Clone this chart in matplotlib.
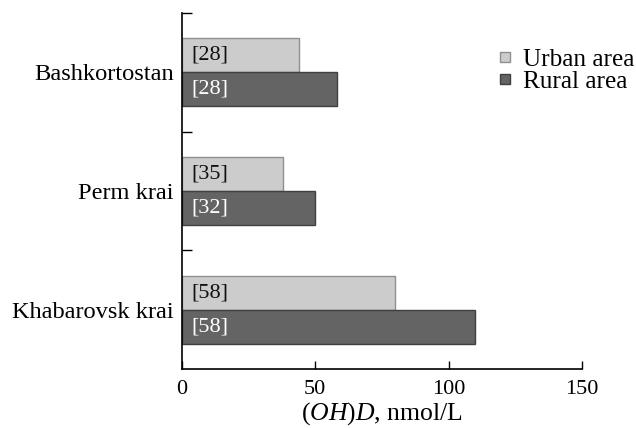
import matplotlib
matplotlib.use("Agg")
import matplotlib.pyplot as plt
import numpy as np
from matplotlib.lines import Line2D

plt.rcParams['font.family'] = ['Liberation Serif', 'DejaVu Serif']
plt.rcParams['mathtext.fontset'] = 'custom'
plt.rcParams['mathtext.rm'] = 'Liberation Serif'
plt.rcParams['mathtext.it'] = 'Liberation Serif:italic'

regions = ["Bashkortostan", "Perm krai", "Khabarovsk krai"]
urban = [44, 38, 80]
rural = [58, 50, 110]
urban_n = ["[28]", "[35]", "[58]"]
rural_n = ["[28]", "[32]", "[58]"]
series_names = ["Urban area", "Rural area"]
xticks = [0, 50, 100, 150]

c_urban, e_urban = "#cccccc", "#8f8f8f"
c_rural, e_rural = "#646464", "#404040"

fig = plt.figure(figsize=(6.36, 4.28), dpi=100)
ax = fig.add_axes([0.286, 0.138, 0.629, 0.832])

y = np.arange(len(regions))
h = 0.287
ax.barh(y - h / 2, urban, height=h, color=c_urban, edgecolor=e_urban, linewidth=1)
ax.barh(y + h / 2, rural, height=h, color=c_rural, edgecolor=e_rural, linewidth=1)

fs = 16
for i in range(len(regions)):
    ax.text(3.5, y[i] - h / 2, urban_n[i], ha='left', va='center', fontsize=fs, color='#111111')
    ax.text(3.5, y[i] + h / 2, rural_n[i], ha='left', va='center', fontsize=fs, color='white')

ax.set_ylim(len(regions) - 0.5, -0.5)
ax.set_xlim(0, 150)
ax.set_yticks(y)
ax.set_yticklabels(regions, fontsize=17.6)
ax.tick_params(axis='y', which='major', length=0, pad=6)
ax.set_yticks(np.arange(-0.5, len(regions) - 0.5, 1.0), minor=True)
ax.tick_params(axis='y', which='minor', direction='in', length=7, width=1)

ax.set_xticks(xticks)
ax.set_xticklabels([str(v) for v in xticks], fontsize=fs)
ax.tick_params(axis='x', which='major', direction='in', length=6, width=1, pad=8)
ax.set_xlabel(r'$(\mathit{OH})\mathit{D}$, nmol/L', fontsize=18.5, labelpad=1)

for s in ['top', 'right']:
    ax.spines[s].set_visible(False)
for s in ['left', 'bottom']:
    ax.spines[s].set_linewidth(1.2)

handles = [Line2D([], [], marker='s', linestyle='none', markersize=7,
                  markerfacecolor=c_urban, markeredgecolor=e_urban),
           Line2D([], [], marker='s', linestyle='none', markersize=7,
                  markerfacecolor=c_rural, markeredgecolor=e_rural)]
fig.legend(handles, series_names, loc='upper left', bbox_to_anchor=(0.78, 0.888),
           frameon=False, fontsize=18.2, handlelength=0.7, handletextpad=0.35,
           labelspacing=0.0, borderaxespad=0, borderpad=0)

fig.savefig("out.png", dpi=100)
